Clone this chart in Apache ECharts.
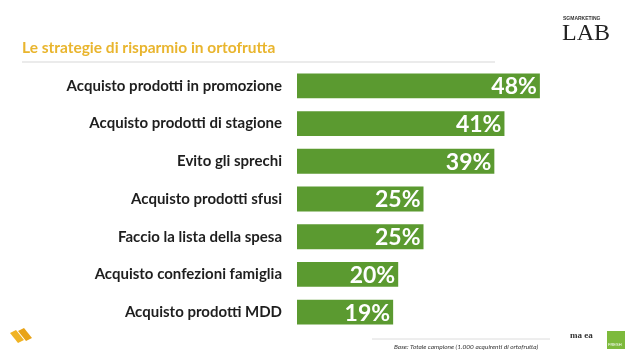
<!DOCTYPE html>
<html><head><meta charset="utf-8">
<script src="https://cdn.jsdelivr.net/npm/echarts@6/dist/echarts.min.js"></script>
<style>html,body{margin:0;padding:0;background:#fff}#c{width:631px;height:360px}</style>
</head><body><div id="c"></div>
<script>
const categories = ["Acquisto prodotti in promozione","Acquisto prodotti di stagione","Evito gli sprechi","Acquisto prodotti sfusi","Faccio la lista della spesa","Acquisto confezioni famiglia","Acquisto prodotti MDD"];
const values = [48,41,39,25,25,20,19];
const titleText = "Le strategie di risparmio in ortofrutta";
const noteText = "Base: Totale campione (1.000 acquirenti di ortofrutta)";

const chart = echarts.init(document.getElementById('c'));
chart.setOption({
  animation:false,
  title:{text:titleText,left:17,top:35,textStyle:{color:'#E9B52E',fontFamily:'Lato',fontWeight:'bold',fontSize:15.5}},
  grid:{left:297,top:67,width:303.6,height:264},
  xAxis:{type:'value',min:0,max:60,show:false},
  yAxis:{type:'category',data:categories,inverse:true,axisLine:{show:false},axisTick:{show:false},
    axisLabel:{margin:15,color:'#1e1e1e',fontFamily:'Lato',fontWeight:'bold',fontSize:15}},
  series:[{type:'bar',data:values,barCategoryGap:'34%',itemStyle:{color:'#5B9A30'},
    label:{show:true,position:'insideRight',offset:[2,1],formatter:'{c}%',color:'#fff',fontFamily:'Lato',fontWeight:'bold',fontSize:23}}],
  graphic:[
    {type:'line',shape:{x1:22,y1:62,x2:495,y2:62},style:{stroke:'#e4e4e4',lineWidth:1.5}},
    {type:'line',shape:{x1:372,y1:339,x2:550,y2:339},style:{stroke:'#dcdcdc',lineWidth:1}},
    {type:'text',left:394,top:343,style:{text:noteText,font:'italic 6.5px Lato',fill:'#333'}},
    {type:'text',left:563,top:16,style:{text:'SGMARKETING',font:'bold 5px Liberation Sans',fill:'#333'}},
    {type:'text',left:562,top:22,style:{text:'LAB',font:'24px Liberation Serif',fill:'#222'}},
    {type:'polygon',shape:{points:[[10,333],[16,330],[24,340],[18,343]]},style:{fill:'#F0B323'}},
    {type:'polygon',shape:{points:[[18,331],[24,328],[32,338],[26,341]]},style:{fill:'#E8A317'}},
    {type:'text',left:570,top:331,style:{text:'ma ea',font:'bold 9px Liberation Serif',fill:'#333'}},
    {type:'rect',shape:{x:607,y:331,width:18,height:18},style:{fill:'#7DBA3C'}},
    {type:'text',left:608,top:343,style:{text:'FRESH',font:'4px Liberation Sans',fill:'#fff'}}
  ]
});
</script></body></html>
